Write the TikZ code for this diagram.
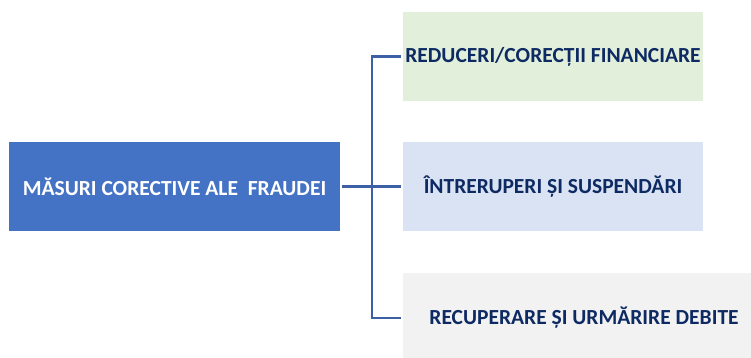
\documentclass[tikz,border=0pt]{standalone}
\usepackage{fontspec}
\setmainfont{Carlito}
\definecolor{mainblue}{HTML}{4472C4}
\definecolor{linecol}{HTML}{3D5FA6}
\definecolor{navy}{HTML}{0E2A63}
\definecolor{greenbg}{HTML}{E2EFDA}
\definecolor{bluebg}{HTML}{DAE3F3}
\definecolor{greybg}{HTML}{F2F2F2}
\tikzset{
  box/.style={rectangle, inner sep=0pt, font=\fontsize{21.5}{24}\selectfont\bfseries, align=center},
  conn/.style={draw=linecol, line width=2.5pt},
}
\begin{document}
\begin{tikzpicture}[x=1pt,y=-1pt]
\clip (0,0) rectangle (751,358);
\fill[white] (0,0) rectangle (751,358);
\node[box, fill=mainblue, text=white, minimum width=331pt, minimum height=89pt] (main) at (174.5,186.5) {MĂSURI CORECTIVE ALE\ \ FRAUDEI};
\node[box, fill=greenbg, text=navy, minimum width=300pt, minimum height=89pt] (top) at (553,56.5) {REDUCERI/CORECȚII FINANCIARE};
\node[box, fill=bluebg, text=navy, minimum width=300pt, minimum height=89pt] (mid) at (553,186.5) {ÎNTRERUPERI ȘI SUSPENDĂRI};
\node[box, fill=greybg, text=navy, minimum width=362pt, minimum height=90pt] (bot) at (584,318) {RECUPERARE ȘI URMĂRIRE DEBITE};
\coordinate (jt) at (372,56.5);
\coordinate (jb) at (372,318);
\draw[conn] ([xshift=2pt]main.east) -- ([xshift=-2pt]mid.west);
\draw[conn] ([xshift=-2pt]top.west) -- (jt) -- (jb) -- ([xshift=-2pt]bot.west);
\end{tikzpicture}
\end{document}
